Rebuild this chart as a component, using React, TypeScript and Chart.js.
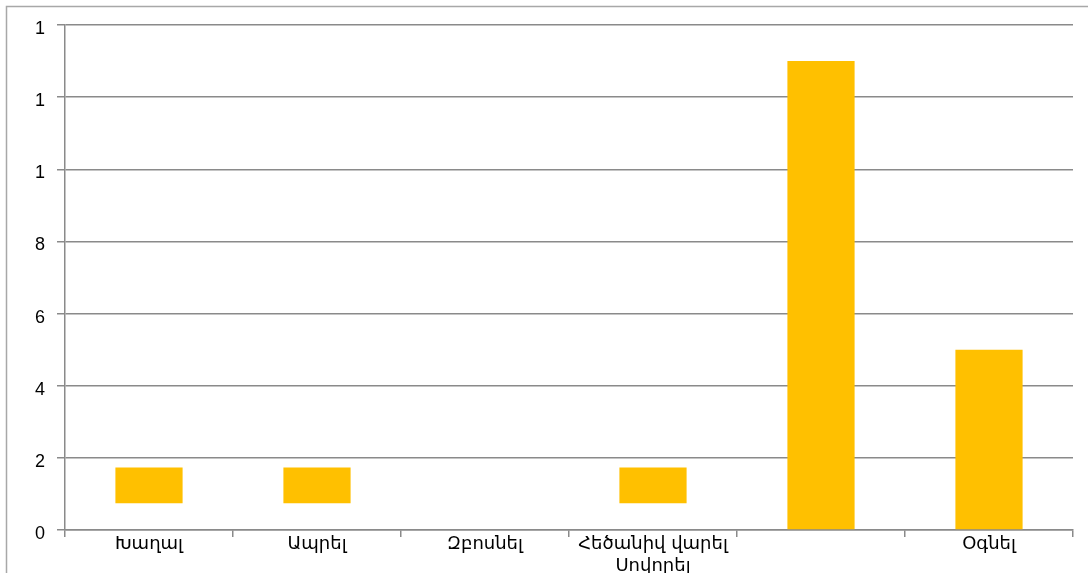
import React, { useEffect, useRef } from "react";
import { Chart, registerables } from "chart.js";

Chart.register(...registerables);

const categories: (string | string[])[] = [
  "Խաղալ",
  "Ապրել",
  "Զբոսնել",
  ["Հեծանիվ վարել", "Սովորել"],
  "",
  "Օգնել",
];
const barStart: (number | null)[] = [0.74, 0.74, null, 0.74, 0, 0];
const barEnd: (number | null)[] = [1.73, 1.73, null, 1.73, 13, 5];
const yTickLabels = ["0", "2", "4", "6", "8", "1", "1", "1"];

const outerBorder = {
  id: "outerBorder",
  beforeDraw(chart: any) {
    const ctx = chart.ctx;
    ctx.save();
    ctx.strokeStyle = "#a8a8a8";
    ctx.lineWidth = 1.5;
    ctx.beginPath();
    ctx.moveTo(6.5, chart.height);
    ctx.lineTo(6.5, 6.5);
    ctx.lineTo(chart.width, 6.5);
    ctx.stroke();
    ctx.restore();
  },
};

export default function App() {
  const ref = useRef<HTMLCanvasElement | null>(null);
  useEffect(() => {
    document.body.style.margin = "0";
    if (!ref.current) return;
    const data = categories.map((_, i) =>
      barStart[i] === null || barEnd[i] === null ? null : [barStart[i], barEnd[i]]
    );
    const chart = new Chart(ref.current, {
      type: "bar",
      data: {
        labels: categories as any,
        datasets: [
          {
            data: data as any,
            backgroundColor: "#FFC000",
            borderWidth: 0,
            barPercentage: 0.4,
            categoryPercentage: 1,
          },
        ],
      },
      plugins: [outerBorder],
      options: {
        responsive: false,
        animation: false,
        devicePixelRatio: 1,
        layout: { padding: { left: 0, right: 15, top: 25, bottom: 0 } },
        plugins: {
          legend: { display: false },
          tooltip: { enabled: false },
        },
        scales: {
          x: {
            grid: {
              display: true,
              drawOnChartArea: false,
              drawTicks: true,
              tickLength: 7,
              color: "#8a8a8a",
              lineWidth: 1.5,
            },
            border: { color: "#8a8a8a", width: 1.5 },
            ticks: {
              color: "#000",
              padding: -3,
              maxRotation: 0,
              autoSkip: false,
              font: { family: "'DejaVu Sans', 'Noto Sans', sans-serif", size: 18, lineHeight: 1.2 },
            },
            afterFit(scale: any) {
              scale.height = 43;
            },
          },
          y: {
            min: 0,
            max: 14,
            grid: {
              color: "#8a8a8a",
              lineWidth: 1.5,
              tickLength: 8,
            },
            border: { color: "#8a8a8a", width: 1.5 },
            ticks: {
              stepSize: 2,
              color: "#000",
              padding: 12,
              labelOffset: 4,
              font: { family: "'Liberation Sans', Arial, sans-serif", size: 18 },
              callback: (_v: any, i: number) => yTickLabels[i],
            },
            afterFit(scale: any) {
              scale.width = 65;
            },
          },
        },
      },
    });
    return () => chart.destroy();
  }, []);
  return (
    <div style={{ width: 1088, height: 573, position: "relative" }}>
      <canvas ref={ref} width={1088} height={573} />
    </div>
  );
}
